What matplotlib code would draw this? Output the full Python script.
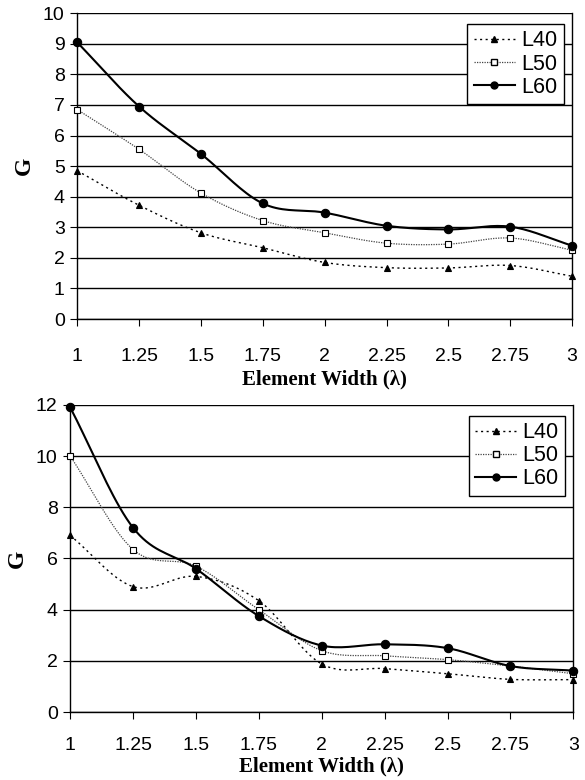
import numpy as np
import matplotlib.pyplot as plt
from matplotlib.lines import Line2D

widths = [1, 1.25, 1.5, 1.75, 2, 2.25, 2.5, 2.75, 3]
tick_labels = ["1", "1.25", "1.5", "1.75", "2", "2.25", "2.5", "2.75", "3"]

# top panel
top_l40 = [4.85, 3.72, 2.82, 2.33, 1.85, 1.68, 1.67, 1.75, 1.40]
top_l50 = [6.85, 5.55, 4.12, 3.22, 2.82, 2.48, 2.45, 2.65, 2.25]
top_l60 = [9.05, 6.95, 5.40, 3.78, 3.48, 3.05, 2.93, 3.02, 2.40]

# bottom panel
bot_l40 = [6.90, 4.90, 5.30, 4.35, 1.88, 1.70, 1.50, 1.28, 1.27]
bot_l50 = [10.0, 6.35, 5.70, 4.00, 2.40, 2.20, 2.05, 1.80, 1.50]
bot_l60 = [11.9, 7.20, 5.60, 3.75, 2.60, 2.65, 2.50, 1.80, 1.62]

labels = ["L40", "L50", "L60"]


def smooth(x, y, n=20):
    # catmull-rom path through the points (like Excel "smoothed line")
    x = np.asarray(x, float)
    y = np.asarray(y, float)
    px = np.concatenate([[2 * x[0] - x[1]], x, [2 * x[-1] - x[-2]]])
    py = np.concatenate([[2 * y[0] - y[1]], y, [2 * y[-1] - y[-2]]])
    t = np.linspace(0, 1, n)
    xs, ys = [], []
    for i in range(1, len(px) - 2):
        for p, out in ((px, xs), (py, ys)):
            p0, p1, p2, p3 = p[i - 1], p[i], p[i + 1], p[i + 2]
            out.append(0.5 * ((2 * p1) + (-p0 + p2) * t
                              + (2 * p0 - 5 * p1 + 4 * p2 - p3) * t ** 2
                              + (-p0 + 3 * p1 - 3 * p2 + p3) * t ** 3))
    return np.concatenate(xs), np.concatenate(ys)


styles = [
    dict(ls=(0, (1.5, 2.5)), lw=1.0, color="black", marker="^", mfc="black", ms=5),
    dict(ls=(0, (1, 1)), lw=0.9, color="#444444", marker="s", mfc="white", mec="black", ms=5),
    dict(ls="-", lw=1.5, color="black", marker="o", mfc="black", ms=6),
]


def draw(ax, series, ymax, ystep, xpad, lpad):
    for vals, st in zip(series, styles):
        sx, sy = smooth(widths, vals)
        ax.plot(sx, sy, ls=st["ls"], lw=st["lw"], color=st["color"], clip_on=False, zorder=3)
        ax.plot(widths, vals, ls="none", marker=st["marker"], mfc=st["mfc"],
                mec=st.get("mec", "black"), ms=st["ms"], mew=0.8, clip_on=False, zorder=4)
    ax.set_xlim(1, 3)
    ax.set_ylim(0, ymax)
    ax.set_yticks(np.arange(0, ymax + 0.1, ystep))
    ax.set_xticks(widths)
    ax.set_xticklabels(tick_labels)
    ax.yaxis.grid(True, color="black", lw=1.0)
    ax.set_axisbelow(True)
    ax.spines["top"].set_visible(False)
    for s in ("left", "right", "bottom"):
        ax.spines[s].set_linewidth(1.0)
    ax.tick_params(axis="x", direction="out", length=5, pad=xpad, labelsize=14)
    ax.tick_params(axis="y", direction="out", length=5, pad=4, labelsize=14)
    for lab in ax.get_xticklabels() + ax.get_yticklabels():
        lab.set_family("Liberation Sans")
    ax.set_xlabel("Element Width (\u03bb)", family="Liberation Serif", fontweight="bold",
                  fontsize=15, labelpad=lpad)
    ax.set_ylabel("G", family="Liberation Serif", fontweight="bold", fontsize=17, labelpad=6)
    handles = [Line2D([], [], ls=st["ls"], lw=st["lw"], color=st["color"], marker=st["marker"],
                      mfc=st["mfc"], mec=st.get("mec", "black"), ms=st["ms"] - 1)
               for st in styles]
    leg = ax.legend(handles, labels, loc="upper right", bbox_to_anchor=(1.005, 1.0),
                    frameon=True, fancybox=False, edgecolor="black", framealpha=1,
                    handlelength=1.9, handletextpad=0.3, borderpad=0.3, labelspacing=0.1,
                    prop={"family": "Liberation Sans", "size": 15.5})
    leg.get_frame().set_linewidth(1.0)


fig = plt.figure(figsize=(5.85, 7.8), dpi=100)
ax1 = fig.add_axes([0.132, 0.591, 0.846, 0.392])
ax2 = fig.add_axes([0.120, 0.087, 0.860, 0.394])

draw(ax1, [top_l40, top_l50, top_l60], 10, 1, 16, 3)
draw(ax2, [bot_l40, bot_l50, bot_l60], 12, 2, 13, 2)

fig.savefig("out.png", dpi=100)
